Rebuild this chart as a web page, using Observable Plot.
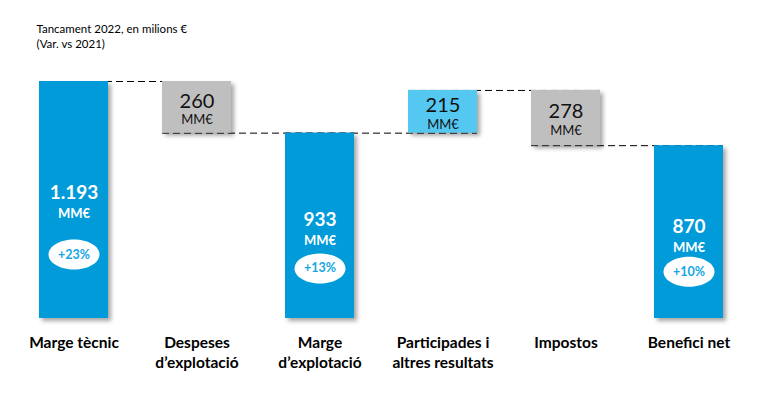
<!DOCTYPE html>
<html>
<head>
<meta charset="utf-8">
<script src="https://cdn.jsdelivr.net/npm/d3@7"></script>
<script src="https://cdn.jsdelivr.net/npm/@observablehq/plot@0.6"></script>
<style>
  html, body { margin: 0; padding: 0; background: #fff; }
</style>
</head>
<body>
<div id="chart"></div>
<script>
const titleText = "Tancament 2022, en milions €\n(Var. vs 2021)";
const categories = ["Marge tècnic", "Despeses d’explotació", "Marge d’explotació", "Participades i altres resultats", "Impostos", "Benefici net"];
const axisLabels = ["Marge tècnic", "Despeses\nd’explotació", "Marge\nd’explotació", "Participades i\naltres resultats", "Impostos", "Benefici net"];
const kinds = ["total", "decrease", "total", "increase", "decrease", "total"];
const amounts = [1193, 260, 933, 215, 278, 870];
const amountLabels = ["1.193", "260", "933", "215", "278", "870"];
const changes = ["+23%", "", "+13%", "", "", "+10%"];
const unit = "MM€";

// waterfall table built from the arrays
let level = 0;
const rows = categories.map((cat, i) => {
  let y1, y2;
  if (kinds[i] === "total") { y1 = 0; y2 = amounts[i]; level = y2; }
  else if (kinds[i] === "decrease") { y1 = level - amounts[i]; y2 = level; level = y1; }
  else { y1 = level; y2 = level + amounts[i]; level = y2; }
  return {cat, label: axisLabels[i], kind: kinds[i], y1, y2, level, amountLabel: amountLabels[i], change: changes[i]};
});
const totals = rows.filter(d => d.kind === "total");
const floats = rows.filter(d => d.kind !== "total");
const connectors = rows.slice(0, -1).map((d, i) => ({x1: d.cat, x2: rows[i + 1].cat, y: d.level}));

const ellipse = {
  draw(ctx, size) {
    const ry = Math.sqrt(size / Math.PI), rx = ry * 1.7, k = 0.5523;
    ctx.moveTo(rx, 0);
    ctx.bezierCurveTo(rx, k * ry, k * rx, ry, 0, ry);
    ctx.bezierCurveTo(-k * rx, ry, -rx, k * ry, -rx, 0);
    ctx.bezierCurveTo(-rx, -k * ry, -k * rx, -ry, 0, -ry);
    ctx.bezierCurveTo(k * rx, -ry, rx, -k * ry, rx, 0);
    ctx.closePath();
  }
};

const plot = Plot.plot({
  width: 761,
  height: 398,
  marginLeft: 25,
  marginRight: 24,
  marginTop: 81,
  marginBottom: 80,
  style: {fontFamily: "Lato, 'Open Sans', sans-serif", background: "#fff", overflow: "visible"},
  x: {domain: categories, paddingInner: 0.44, paddingOuter: 0.1, axis: null},
  y: {domain: [0, 1193], axis: null},
  color: {domain: ["total", "decrease", "increase"], range: ["#009bd8", "#bfbfbf", "#55c8f2"]},
  marks: [
    Plot.ruleY(connectors, {x1: "x1", x2: "x2", y: "y", stroke: "#000", strokeWidth: 1, strokeDasharray: "7,4"}),
    Plot.barY(rows, {x: "cat", y1: "y1", y2: "y2", fill: "kind"}),
    // totals labels
    Plot.text(totals, {x: "cat", y: d => d.y2 * 0.53, text: "amountLabel", fill: "#fff", fontWeight: "bold", fontSize: 19}),
    Plot.text(totals, {x: "cat", y: d => d.y2 * 0.53, dy: 21, text: () => unit, fill: "#fff", fontWeight: "bold", fontSize: 13}),
    Plot.dot(totals, {x: "cat", y: d => d.y2 * 0.27, r: 15, symbol: ellipse, fill: "#fff", stroke: null}),
    Plot.text(totals, {x: "cat", y: d => d.y2 * 0.27, text: "change", fill: "#16a6e3", fontWeight: "bold", fontSize: 12.5}),
    // floating labels
    Plot.text(floats, {x: "cat", y: d => (d.y1 + d.y2) / 2, dy: -6, text: "amountLabel", fill: "#111", fontSize: 20, fontWeight: 400}),
    Plot.text(floats, {x: "cat", y: d => (d.y1 + d.y2) / 2, dy: 13, text: () => unit, fill: "#111", fontSize: 13, fontWeight: 400}),
    // category labels
    Plot.text(rows, {x: "cat", frameAnchor: "bottom", text: "label", lineAnchor: "top", dy: 16, fontWeight: "bold", fontSize: 15.5, fill: "#000", lineHeight: 1.25}),
    // title
    Plot.text([titleText], {frameAnchor: "top-left", text: d => d, textAnchor: "start", lineAnchor: "top", dx: 11, dy: -59, fontSize: 11.5, lineHeight: 1.3, fill: "#000"})
  ]
});
d3.select(plot).selectAll('g[aria-label="bar"]').style("filter", "drop-shadow(3px 3px 2px rgba(0,0,0,0.35))");
document.getElementById("chart").appendChild(plot);
</script>
</body>
</html>
